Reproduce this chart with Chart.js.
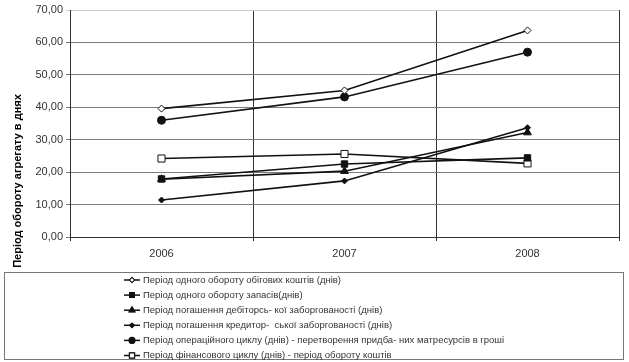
<!DOCTYPE html>
<html>
<head>
<meta charset="utf-8">
<script src="https://cdn.jsdelivr.net/npm/chart.js@4.4.1/dist/chart.umd.min.js"></script>
<style>
  html, body { margin: 0; padding: 0; background: #fff; }
  #wrap { width: 629px; height: 362px; }
</style>
</head>
<body>
<div id="wrap"><canvas id="myChart" width="629" height="362"></canvas></div>
<script>
// Data
const years = ['2006', '2007', '2008'];
const obigovi = [39.6, 45.2, 63.7];   // Період одного обороту обігових коштів
const zapasy = [17.9, 22.5, 24.4];    // Період одного обороту запасів
const debitor = [17.8, 20.3, 32.2];   // Період погашення дебіторської заборгованості
const kredytor = [11.4, 17.3, 33.7];  // Період погашення кредиторської заборгованості
const operCycle = [36.0, 43.2, 57.0]; // Період операційного циклу
const finCycle = [24.2, 25.6, 22.7];  // Період фінансового циклу
const yMin = 0, yMax = 70, yStep = 10;

const labels = [
    'Період одного обороту обігових коштів (днів)',
    'Період одного обороту запасів(днів)',
    'Період погашення дебіторсь- кої заборгованості (днів)',
    'Період погашення кредитор-  ської заборгованості (днів)',
    'Період операційного циклу (днів) - перетворення придба- них матресурсів в гроші',
    'Період фінансового циклу (днів) - період обороту коштів'
];
const yTitle = 'Період обороту агрегату в днях';

const mk = (label, data, style, radius, fill) => ({
    label: label,
    data: data,
    borderColor: '#111',
    borderWidth: 1.6,
    pointStyle: style,
    pointRadius: radius,
    pointHoverRadius: radius,
    pointBackgroundColor: fill,
    pointBorderColor: '#111',
    pointBorderWidth: 1,
    tension: 0
});

const datasets = [
    mk(labels[0], obigovi, 'rectRot', 3.5, '#fff'),
    mk(labels[1], zapasy, 'rect', 4.5, '#111'),
    mk(labels[2], debitor, 'triangle', 4.5, '#111'),
    mk(labels[3], kredytor, 'rectRot', 3, '#111'),
    mk(labels[4], operCycle, 'circle', 4, '#111'),
    mk(labels[5], finCycle, 'rect', 5, '#fff')
];

// Legend box and rotated axis title drawn by hand
const extras = {
    id: 'extras',
    afterDraw(chart) {
        const c = chart.ctx;
        c.save();
        // y title, centred on the whole canvas height
        c.translate(18, 181);
        c.rotate(-Math.PI / 2);
        c.font = 'bold 11px "Liberation Sans", Arial, sans-serif';
        c.fillStyle = '#000';
        c.textAlign = 'center';
        c.textBaseline = 'middle';
        c.fillText(yTitle, 0, 0);
        c.restore();

        // legend frame
        c.save();
        c.strokeStyle = '#777';
        c.lineWidth = 1;
        c.strokeRect(4.5, 272.5, 619, 87);
        c.font = '9.5px "Liberation Sans", Arial, sans-serif';
        c.textBaseline = 'middle';
        c.textAlign = 'left';
        chart.data.datasets.forEach((ds, i) => {
            const y = 280 + i * 15.1;
            c.strokeStyle = '#111';
            c.lineWidth = 1.5;
            c.beginPath();
            c.moveTo(124, y);
            c.lineTo(140, y);
            c.stroke();
            Chart.helpers.drawPoint(c, {
                pointStyle: ds.pointStyle,
                radius: ds.pointRadius * 0.7,
                borderWidth: 1
            }, 132, y);
            c.fillStyle = ds.pointBackgroundColor;
            c.strokeStyle = '#111';
            c.lineWidth = 1;
            c.fill();
            c.stroke();
            c.fillStyle = '#333';
            c.fillText(ds.label, 143, y);
        });
        c.restore();
    }
};

const lastX = 3;
const chart = new Chart(document.getElementById('myChart').getContext('2d'), {
    type: 'line',
    data: { labels: years, datasets: datasets },
    plugins: [extras],
    options: {
        responsive: false,
        animation: false,
        layout: { padding: { left: 0, top: 10, right: 10, bottom: 100 } },
        plugins: {
            legend: { display: false },
            tooltip: { enabled: false }
        },
        scales: {
            x: {
                offset: true,
                afterFit: s => { s.height = 25; },
                grid: {
                    offset: true,
                    color: ctx => ctx.index === lastX ? '#ccc' : '#333',
                    lineWidth: 1,
                    tickLength: 4
                },
                border: { color: '#333' },
                ticks: {
                    color: '#333',
                    font: { family: '"Liberation Sans", Arial, sans-serif', size: 11 },
                    padding: 6
                }
            },
            y: {
                min: yMin,
                max: yMax,
                afterFit: s => { s.width = 70; },
                grid: {
                    color: ctx => ctx.tick && ctx.tick.value === yMax ? '#ccc' : '#7a7a7a',
                    lineWidth: 1,
                    tickLength: 4
                },
                border: { color: '#333' },
                ticks: {
                    stepSize: yStep,
                    color: '#333',
                    font: { family: '"Liberation Sans", Arial, sans-serif', size: 11 },
                    padding: 3,
                    callback: v => v.toFixed(2).replace('.', ',')
                }
            }
        }
    }
});
</script>
</body>
</html>
